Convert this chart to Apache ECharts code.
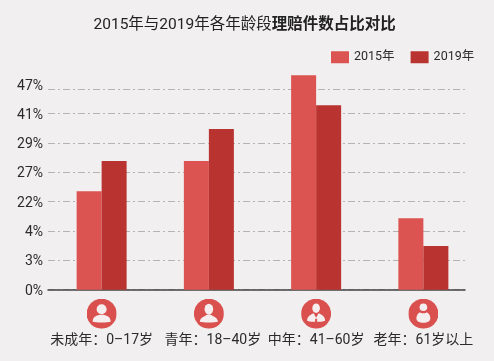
<!DOCTYPE html>
<html><head><meta charset="utf-8">
<style>html,body{margin:0;padding:0;background:#f1eff0}#c{width:494px;height:361px}</style>
<script src="https://cdn.jsdelivr.net/npm/echarts@6/dist/echarts.min.js"></script>
</head><body><div id="c"></div>
<script>
const categories = ['未成年：0–17岁','青年：18–40岁','中年：41–60岁','老年：61岁以上'];
const tickLabels = ['0%','3%','4%','22%','27%','29%','41%','47%'];
// the printed axis is not linear: values are read as positions on its tick ladder
const tickSteps = [0,1,2,3,4,5,6,6.84];
const values2015 = [3.36,4.385,7.315,2.44];
const values2019 = [4.385,5.475,6.29,1.49];
const seriesNames = ['2015年','2019年'];
const colors = ['#db5452','#b93431'];
const ink = '#2b2b2b';
const latin = 'Roboto,"Noto Sans CJK SC",sans-serif';

function badge(inner){
  const svg = '<svg xmlns="http://www.w3.org/2000/svg" width="30" height="30" viewBox="0 0 30 30"><circle cx="15" cy="15" r="15" fill="#d9504e"/><g fill="#f6eeee">'+inner+'</g></svg>';
  return 'data:image/svg+xml;charset=utf-8,'+encodeURIComponent(svg);
}
const icons = [
  badge('<circle cx="15" cy="10.5" r="5"/><path d="M6 23c0-5 4-7 9-7s9 2 9 7c-3 1-15 1-18 0z"/>'),
  badge('<ellipse cx="15" cy="10.5" rx="4.3" ry="5.5"/><path d="M6 23c0-4 4-5 7-7h4c3 2 7 3 7 7c-3 1-15 1-18 0z"/>'),
  badge('<ellipse cx="15" cy="9.5" rx="3.8" ry="4.8"/><path d="M6 22c0-4 3-6 6.5-7.5L15 19l2.500-4.500C21 16 24 18 24 22c-2 1-5 1-8 1v-3h-2v3c-3 0-6 0-8-1z"/>'),
  badge('<circle cx="15" cy="8.500" r="3.800"/><path d="M11.500 13.500c1 1.500 6 1.500 7 0C21 15 22 17.500 22 19.500c0 3-3 4.500-7 4.500s-7-1.500-7-4.500c0-2 1-4.500 3.500-6z"/>')
];
const rich = {t:{fontSize:14,fontFamily:latin,color:ink,height:20,lineHeight:20,padding:[2,0,0,0]},
              t1:{fontSize:14,fontFamily:latin,color:ink,height:20,lineHeight:20,padding:[2,0,0,8]}};
icons.forEach((u,i)=>{rich['i'+i]={width:30,height:30,lineHeight:32,backgroundColor:{image:u}};});

const chart = echarts.init(document.getElementById('c'),null,{renderer:'canvas'});
const gridBox = {top:69.7,bottom:71.3};
const tickStyle = {fontSize:14,fontFamily:latin,color:ink};
chart.setOption({
  backgroundColor:'#f1eff0',
  animation:false,
  title:{left:93.5,top:17,padding:0,
    text:'{a|2015年与2019年各年龄段}{b|理赔件数占比对比}',
    textStyle:{fontWeight:'normal',rich:{
      a:{fontSize:15.5,fontWeight:'normal',fontFamily:latin,color:'#222'},
      b:{fontSize:15.5,fontWeight:'bold',fontFamily:latin,color:'#222'}}}},
  legend:{top:51,left:331,padding:0,itemWidth:18,itemHeight:12,itemGap:16,icon:'rect',
    textStyle:{fontSize:12.5,fontFamily:latin,color:ink,padding:[0,0,0,0]},
    data:seriesNames},
  grid:[
    Object.assign({left:48,right:29},gridBox),
    Object.assign({left:48,right:17},gridBox)
  ],
  xAxis:[
    {type:'category',gridIndex:0,data:categories,
     axisLine:{show:true,lineStyle:{color:'#444',width:1.5}},axisTick:{show:false},axisLabel:{show:false}},
    {type:'category',gridIndex:1,data:categories,
     axisLine:{show:false},axisTick:{show:false},
     axisLabel:{interval:0,margin:8,lineHeight:18,
       formatter:(v,i)=>'{i'+i+'|}\n{'+(i===1?'t1':'t')+'|'+v+'}',
       rich}}
  ],
  yAxis:[
    {type:'value',gridIndex:0,min:0,max:7.5,
     axisLine:{show:false},
     axisTick:{show:false,customValues:tickSteps},
     axisLabel:{customValues:tickSteps,margin:5,
       formatter:v=>{const i=tickSteps.indexOf(v);return (i===tickLabels.length-1?'{top|':'{low|')+tickLabels[i]+'}';},
       rich:{low:Object.assign({padding:[3,0,0,0]},tickStyle),top:Object.assign({padding:[0,0,6,0]},tickStyle)}},
     splitLine:{show:true,lineStyle:{color:'#b5b3b3',width:1,type:[7,3,2,3]}}},
    {type:'value',gridIndex:1,min:0,max:7.5,show:false,splitLine:{show:false}}
  ],
  series:[
    {name:seriesNames[0],type:'bar',xAxisIndex:1,yAxisIndex:1,data:values2015,barWidth:25,barGap:0,itemStyle:{color:colors[0]}},
    {name:seriesNames[1],type:'bar',xAxisIndex:1,yAxisIndex:1,data:values2019,barWidth:25,barGap:0,itemStyle:{color:colors[1]}}
  ]
});
</script></body></html>
